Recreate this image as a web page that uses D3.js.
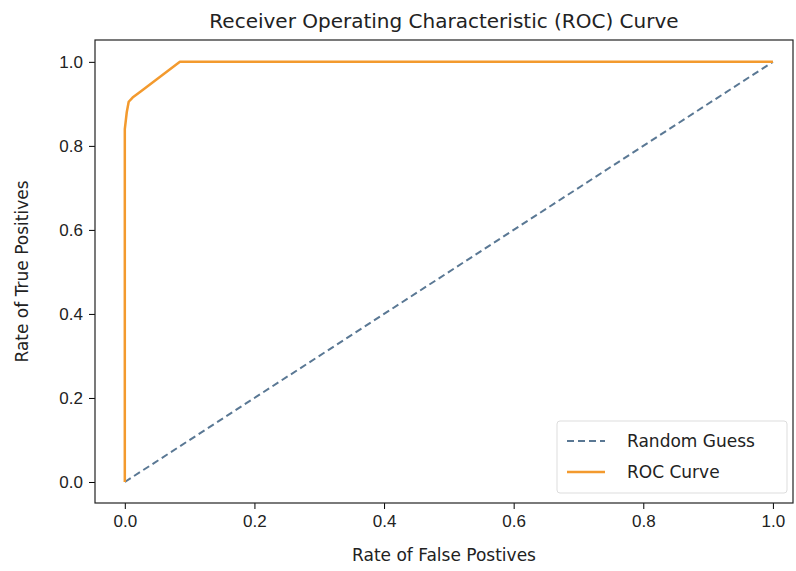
<!DOCTYPE html>
<html><head><meta charset="utf-8">
<script src="https://cdn.jsdelivr.net/npm/d3@7"></script>
<style>body{margin:0;background:#fff;overflow:hidden}svg{display:block}</style>
</head><body><div id="chart"></div>
<script>
var chart_width = 796
var chart_height = 571

var guess_fpr = [0, 1]
var guess_tpr = [0, 1]
var roc_fpr = [0, 0, 0, 0.003, 0.006, 0.012, 0.025, 0.085, 0.2, 1]
var roc_tpr = [0, 0.78, 0.84, 0.88, 0.905, 0.915, 0.93, 1.0, 1.0, 1.0]
var ticks = [0, 0.2, 0.4, 0.6, 0.8, 1.0]

var svg = d3.select('#chart').append('svg')
	.attr('width', chart_width).attr('height', chart_height)
	.style('font-family', 'DejaVu Sans')

var m_left = 95, m_right = 793, m_top = 40, m_bottom = 503

var x_scale = d3.scaleLinear().domain([-0.046, 1.031]).range([m_left, m_right])
var y_scale = d3.scaleLinear().domain([-0.05, 1.052]).range([m_bottom, m_top])

svg.append('g')
	.attr('transform', 'translate(0,' + m_bottom + ')')
	.call(d3.axisBottom(x_scale).tickValues(ticks).tickFormat(d3.format('.1f')).tickSizeOuter(0).tickSize(6).tickPadding(6))
	.call(g => g.selectAll('text').attr('font-size', 17).attr('fill', '#222'))
	.call(g => g.select('.domain').remove())
svg.append('g')
	.attr('transform', 'translate(' + m_left + ',0)')
	.call(d3.axisLeft(y_scale).tickValues(ticks).tickFormat(d3.format('.1f')).tickSizeOuter(0).tickSize(6).tickPadding(6))
	.call(g => g.selectAll('text').attr('font-size', 17).attr('fill', '#222'))
	.call(g => g.select('.domain').remove())

svg.append('rect').attr('x', m_left).attr('y', m_top)
	.attr('width', m_right - m_left).attr('height', m_bottom - m_top)
	.attr('fill', 'none').attr('stroke', '#222').attr('stroke-width', 1.2)

var line = d3.line().x(d => x_scale(d[0])).y(d => y_scale(d[1]))

svg.append('path')
	.datum(d3.zip(guess_fpr, guess_tpr))
	.attr('fill', 'none').attr('stroke', '#5a7894').attr('stroke-width', 2)
	.attr('stroke-dasharray', '7,4').attr('d', line)

svg.append('path')
	.datum(d3.zip(roc_fpr, roc_tpr))
	.attr('fill', 'none').attr('stroke', '#f39a2e').attr('stroke-width', 2.5)
	.attr('stroke-linejoin', 'round').attr('d', line)

svg.append('text').attr('x', (m_left + m_right) / 2).attr('y', 28)
	.attr('text-anchor', 'middle').attr('font-size', 20).attr('fill', '#222')
	.text('Receiver Operating Characteristic (ROC) Curve')
svg.append('text').attr('x', (m_left + m_right) / 2).attr('y', 561)
	.attr('text-anchor', 'middle').attr('font-size', 17).attr('fill', '#222')
	.text('Rate of False Postives')
svg.append('text').attr('transform', 'translate(28,' + (m_top + m_bottom) / 2 + ') rotate(-90)')
	.attr('text-anchor', 'middle').attr('font-size', 17).attr('fill', '#222')
	.text('Rate of True Positives')

// legend
var lg = svg.append('g').attr('transform', 'translate(557,421)')
lg.append('rect').attr('width', 230).attr('height', 72).attr('rx', 3)
	.attr('fill', '#fff').attr('fill-opacity', 0.8).attr('stroke', '#ddd')
lg.append('line').attr('x1', 10).attr('x2', 48).attr('y1', 20).attr('y2', 20)
	.attr('stroke', '#5a7894').attr('stroke-width', 2).attr('stroke-dasharray', '7,4')
lg.append('line').attr('x1', 10).attr('x2', 48).attr('y1', 51).attr('y2', 51)
	.attr('stroke', '#f39a2e').attr('stroke-width', 2.5)
lg.append('text').attr('x', 70).attr('y', 26).attr('font-size', 17).attr('fill', '#222').text('Random Guess')
lg.append('text').attr('x', 70).attr('y', 57).attr('font-size', 17).attr('fill', '#222').text('ROC Curve')
</script></body></html>
